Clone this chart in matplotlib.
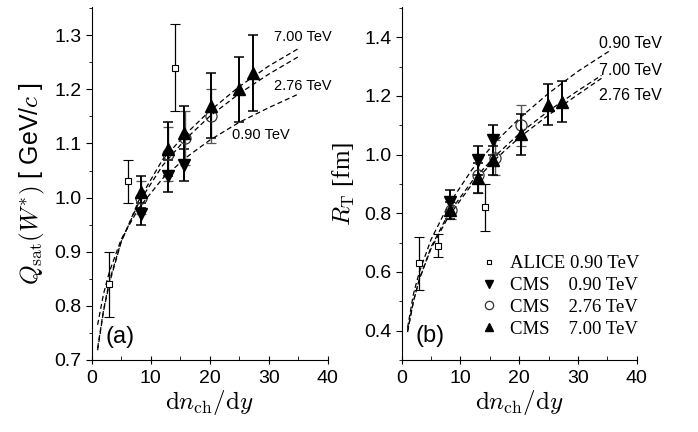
import matplotlib
matplotlib.use("Agg")
import matplotlib.pyplot as plt
from matplotlib.ticker import MultipleLocator

plt.rcParams['font.family'] = ['Liberation Sans', 'DejaVu Sans']
plt.rcParams['mathtext.fontset'] = 'cm'

# data: dn_ch/dy positions
alice_x = [3.0, 6.2, 14.1]
cms090_x = [8.3, 13.0, 15.6]
cms276_x = [8.4, 13.0, 15.8, 20.3]
cms700_x = [8.3, 13.0, 15.6, 20.3, 24.9, 27.3]

# (a) Qsat values and errors
q_alice = [0.84, 1.03, 1.24]
q_alice_err = [0.06, 0.04, 0.08]
q_cms090 = [0.97, 1.04, 1.06]
q_cms090_err = [0.02, 0.03, 0.03]
q_cms276 = [1.00, 1.08, 1.11, 1.15]
q_cms276_err = [0.03, 0.05, 0.05, 0.05]
q_cms700 = [1.01, 1.09, 1.12, 1.17, 1.20, 1.23]
q_cms700_err = [0.03, 0.05, 0.05, 0.06, 0.06, 0.07]

# (b) RT values and errors
r_alice = [0.63, 0.69, 0.82]
r_alice_err = [0.09, 0.04, 0.08]
r_cms090 = [0.84, 0.98, 1.05]
r_cms090_err = [0.04, 0.05, 0.05]
r_cms276 = [0.81, 0.93, 0.99, 1.10]
r_cms276_err = [0.03, 0.06, 0.06, 0.07]
r_cms700 = [0.81, 0.92, 0.98, 1.07, 1.17, 1.18]
r_cms700_err = [0.03, 0.05, 0.05, 0.07, 0.07, 0.07]

# fit curves
fit_x = [1, 2, 3, 5, 8, 12, 16, 20, 25, 30, 35]
q_fit700 = [0.718, 0.79, 0.842, 0.918, 0.995, 1.07, 1.118, 1.16, 1.205, 1.243, 1.275]
q_fit276 = [0.722, 0.792, 0.846, 0.919, 0.991, 1.059, 1.109, 1.15, 1.192, 1.228, 1.26]
q_fit090 = [0.765, 0.822, 0.863, 0.923, 0.981, 1.035, 1.074, 1.106, 1.139, 1.166, 1.191]

r_fit_x090 = [1, 2, 3, 5, 8, 12, 16, 20, 25, 30, 35.5]
r_fit090 = [0.41, 0.525, 0.60, 0.711, 0.83, 0.95, 1.044, 1.123, 1.209, 1.284, 1.355]
r_fit_x = [1, 2, 3, 5, 8, 12, 16, 20, 25, 30, 34]
r_fit700 = [0.395, 0.50, 0.575, 0.685, 0.80, 0.91, 0.997, 1.071, 1.149, 1.218, 1.27]
r_fit276 = [0.40, 0.50, 0.575, 0.68, 0.79, 0.90, 0.985, 1.058, 1.135, 1.205, 1.26]

fig = plt.figure(figsize=(6.98, 4.32), dpi=100)
ax1 = fig.add_axes([0.1314, 0.1667, 0.338, 0.817])
ax2 = fig.add_axes([0.5755, 0.1667, 0.3367, 0.817])


def draw_points(ax, a, b, c, d):
    kw = dict(linestyle='none', color='black', capsize=3.5)
    h1 = ax.errorbar(alice_x, a[0], yerr=a[1], marker='s', ms=4.5, mfc='white',
                     mew=0.8, elinewidth=0.9, capthick=0.9, **kw)
    h2 = ax.errorbar(cms090_x, b[0], yerr=b[1], marker='v', ms=8,
                     elinewidth=1.4, capthick=1.1, **kw)
    h3 = ax.errorbar(cms276_x, c[0], yerr=c[1], marker='o', ms=8, mfc='none',
                     mec='#333333', ecolor='#555555', mew=0.9,
                     elinewidth=1.0, capthick=1.0, linestyle='none', capsize=3.5)
    h4 = ax.errorbar(cms700_x, d[0], yerr=d[1], marker='^', ms=8,
                     elinewidth=1.4, capthick=1.1, **kw)
    return [h1[0], h2[0], h3[0], h4[0]]


def style(ax):
    for s in ['top', 'right']:
        ax.spines[s].set_visible(False)
    ax.set_xlim(0, 40)
    ax.xaxis.set_major_locator(MultipleLocator(10))
    ax.xaxis.set_minor_locator(MultipleLocator(5))
    ax.tick_params(axis='x', which='major', direction='inout', length=6, labelsize=14, pad=4)
    ax.tick_params(axis='x', which='minor', direction='in', length=3)
    ax.tick_params(axis='y', which='major', direction='out', length=4, labelsize=14)
    ax.tick_params(axis='y', which='minor', direction='out', length=2)
    ax.set_xlabel(r'$\mathrm{d}n_{\mathrm{ch}}/\mathrm{d}y$', fontsize=18, labelpad=1)


# (a)
dash = dict(color='black', lw=0.9, ls=(0, (4, 2.5)))
ax1.plot(fit_x, q_fit700, **dash)
ax1.plot(fit_x, q_fit276, **dash)
ax1.plot(fit_x, q_fit090, **dash)
draw_points(ax1, (q_alice, q_alice_err), (q_cms090, q_cms090_err),
            (q_cms276, q_cms276_err), (q_cms700, q_cms700_err))
style(ax1)
ax1.set_ylim(0.7, 1.352)
ax1.yaxis.set_major_locator(MultipleLocator(0.1))
ax1.yaxis.set_minor_locator(MultipleLocator(0.05))
ax1.yaxis.set_major_formatter(matplotlib.ticker.FormatStrFormatter('%.1f'))
ax1.set_ylabel(r'$Q_{\rm sat}(W^{*})$ [ GeV/$c$ ]', fontsize=18, labelpad=5)
ax1.text(30.9, 1.296, '7.00 TeV', fontsize=10.5, va='center')
ax1.text(30.9, 1.206, '2.76 TeV', fontsize=10.5, va='center')
ax1.text(23.8, 1.115, '0.90 TeV', fontsize=10.5, va='center')
ax1.text(2.4, 0.742, '(a)', fontsize=17, va='center')

# (b)
ax2.plot(r_fit_x090, r_fit090, **dash)
ax2.plot(r_fit_x, r_fit700, **dash)
ax2.plot(r_fit_x, r_fit276, **dash)
handles = draw_points(ax2, (r_alice, r_alice_err), (r_cms090, r_cms090_err),
                      (r_cms276, r_cms276_err), (r_cms700, r_cms700_err))
style(ax2)
ax2.set_ylim(0.3, 1.503)
ax2.yaxis.set_major_locator(MultipleLocator(0.2))
ax2.yaxis.set_minor_locator(MultipleLocator(0.1))
ax2.yaxis.set_major_formatter(matplotlib.ticker.FormatStrFormatter('%.1f'))
ax2.set_ylabel(r'$R_{\rm T}$ [fm]', fontsize=18, labelpad=5,
               family=['Liberation Serif', 'DejaVu Serif'])
ax2.text(33.6, 1.38, '0.90 TeV', fontsize=11.5, va='center')
ax2.text(33.6, 1.285, '7.00 TeV', fontsize=11.5, va='center')
ax2.text(33.6, 1.203, '2.76 TeV', fontsize=11.5, va='center')
ax2.text(2.4, 0.381, '(b)', fontsize=17, va='center')

labels = ['ALICE 0.90 TeV', 'CMS    0.90 TeV', 'CMS    2.76 TeV', 'CMS    7.00 TeV']
ax2.legend(handles, labels, loc='lower left', bbox_to_anchor=(0.26, 0.015),
           frameon=False, markerscale=0.75, handlelength=1.0, handletextpad=0.6,
           labelspacing=0.25, prop={'family': 'Liberation Serif', 'size': 13.5})

fig.savefig('out.png', dpi=100)
